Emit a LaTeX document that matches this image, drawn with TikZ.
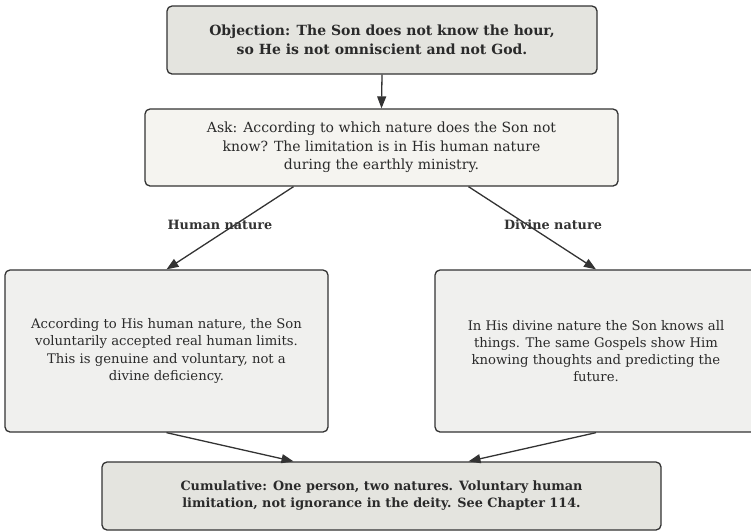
\documentclass[tikz,border=0pt]{standalone}
\usepackage{fontspec}
\setmainfont{DejaVu Serif}
\usetikzlibrary{arrows.meta,calc}
\definecolor{darkfill}{HTML}{E4E4DF}
\definecolor{askfill}{HTML}{F5F4F0}
\definecolor{sidefill}{HTML}{F0F0EE}
\definecolor{edgecol}{HTML}{333333}
\definecolor{textcol}{HTML}{2A2A2A}
\begin{document}
\begin{tikzpicture}[x=1pt,y=-1pt,
  box/.style={draw=edgecol, line width=1.3pt, rounded corners=5pt, align=center,
    inner sep=0pt, text=textcol, font=\fontsize{14}{18.5}\selectfont},
  boldbox/.style={box, font=\fontsize{14}{18.5}\selectfont\bfseries},
  sidebox/.style={box, fill=sidefill, minimum height=162pt, font=\fontsize{13.2}{17.2}\selectfont},
  conn/.style={draw=edgecol, line width=1.3pt, -{Triangle[length=12pt,width=9pt]}},
  lbl/.style={text=edgecol, font=\fontsize{12.8}{15}\selectfont\bfseries, inner sep=0pt}]
\clip (0,0) rectangle (751,531);
\node[boldbox, fill=darkfill, minimum width=430pt, minimum height=68pt] (obj) at (382,40)
  {Objection: The Son does not know the hour,\\so He is not omniscient and not God.};
\node[box, fill=askfill, minimum width=473pt, minimum height=77pt] (ask) at (381.5,147.5)
  {Ask: According to which nature does the Son not\\know? The limitation is in His human nature\\during the earthly ministry.};
\node[sidebox, minimum width=323pt] (left) at (166.5,351)
  {According to His human nature, the Son\\voluntarily accepted real human limits.\\This is genuine and voluntary, not a\\divine deficiency.};
\node[sidebox, minimum width=322pt] (right) at (596,351)
  {In His divine nature the Son knows all\\things. The same Gospels show Him\\knowing thoughts and predicting the\\future.};
\node[boldbox, fill=darkfill, minimum width=559pt, minimum height=68pt, font=\fontsize{12.8}{17}\selectfont\bfseries] (bot) at (381.5,496)
  {Cumulative: One person, two natures. Voluntary human\\limitation, not ignorance in the deity. See Chapter 114.};
\draw[conn] (obj.south) -- (ask.north);
\draw[conn] ($(ask.south)+(-88,0)$) -- (left.north);
\draw[conn] ($(ask.south)+(87,0)$) -- (right.north);
\draw[conn] (left.south) -- ($(bot.north)+(-88,0)$);
\draw[conn] (right.south) -- ($(bot.north)+(87,0)$);
\node[lbl] (lh) at (220,225) {Human nature};
\node[lbl] (ld) at (553,225) {Divine nature};
\end{tikzpicture}
\end{document}
